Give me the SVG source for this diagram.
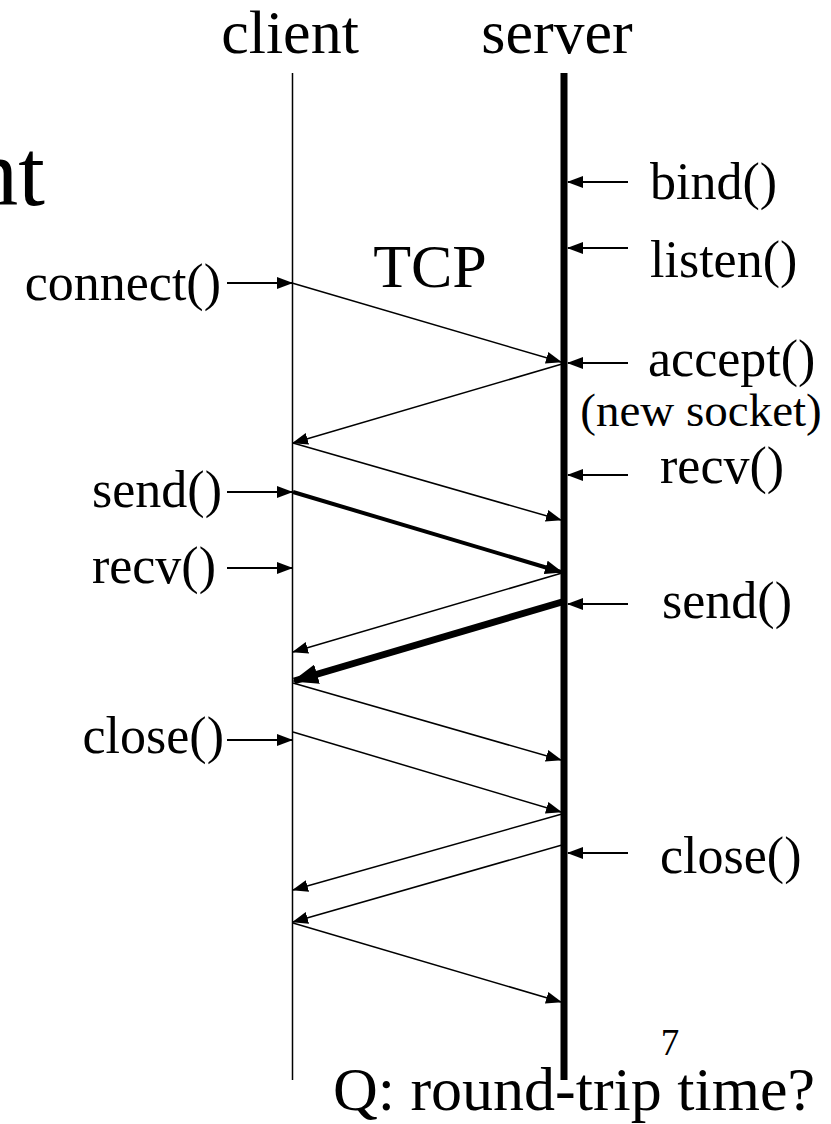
<svg xmlns="http://www.w3.org/2000/svg" width="831" height="1124" viewBox="0 0 831 1124">
<style>
text{font-family:"Liberation Serif","Times New Roman",serif;fill:#000}
.lab{font-size:52px}
.big{font-size:62px}
.thin{stroke:#000;stroke-width:1.5;fill:none}
.call{stroke:#000;stroke-width:1.8;fill:none;marker-end:url(#ah)}
.msg{stroke:#000;stroke-width:1.5;fill:none;marker-end:url(#ah)}
</style>
<defs>
<marker id="ah" markerUnits="userSpaceOnUse" markerWidth="16" markerHeight="12" refX="15" refY="6" orient="auto" viewBox="0 0 16 12"><path d="M0,0 L16,6 L0,12 z" fill="#000"/></marker>
<marker id="ahm" markerUnits="userSpaceOnUse" markerWidth="18" markerHeight="14" refX="16" refY="7" orient="auto" viewBox="0 0 18 14"><path d="M0,0 L18,7 L0,14 z" fill="#000"/></marker>
<marker id="ahb" markerUnits="userSpaceOnUse" markerWidth="26" markerHeight="20" refX="24" refY="10" orient="auto" viewBox="0 0 26 20"><path d="M0,0 L26,10 L0,20 z" fill="#000"/></marker>
</defs>
<g id="title">
<text class="big" x="45" y="205" text-anchor="end" style="font-size:96px">nt</text>
<text class="big" x="430" y="287" text-anchor="middle">TCP</text>
</g>
<g id="client">
<text class="big" x="290" y="53" text-anchor="middle">client</text>
<line x1="292.5" y1="73" x2="292.5" y2="1080" class="thin"/>
</g>
<g id="server">
<text class="big" x="557" y="53" text-anchor="middle">server</text>
<line x1="564" y1="73" x2="564" y2="1080" stroke="#000" stroke-width="7"/>
</g>
<g id="client-calls">
<text class="lab" x="221" y="300" text-anchor="end">connect()</text>
<text class="lab" x="222" y="507" text-anchor="end">send()</text>
<text class="lab" x="216" y="583" text-anchor="end">recv()</text>
<text class="lab" x="224" y="753" text-anchor="end">close()</text>
</g>
<g id="server-calls">
<text class="lab" x="650" y="199">bind()</text>
<text class="lab" x="650" y="277">listen()</text>
<text class="lab" x="648" y="376">accept()</text>
<text x="701" y="426" text-anchor="middle" style="font-size:47px">(new socket)</text>
<text class="lab" x="660" y="483">recv()</text>
<text class="lab" x="662" y="618">send()</text>
<text class="lab" x="660" y="873">close()</text>
</g>
<g id="footer">
<text x="670" y="1055" text-anchor="middle" style="font-size:37px">7</text>
<text class="big" x="574" y="1110" text-anchor="middle">Q: round-trip time?</text>
</g>
<g id="connectors">
<line class="call" x1="227" y1="283" x2="292" y2="283"/>
<line class="call" x1="227" y1="492" x2="292" y2="492"/>
<line class="call" x1="227" y1="568" x2="292" y2="568"/>
<line class="call" x1="227" y1="740" x2="292" y2="740"/>
<line class="call" x1="628" y1="182" x2="568" y2="182"/>
<line class="call" x1="628" y1="248" x2="568" y2="248"/>
<line class="call" x1="628" y1="363" x2="568" y2="363"/>
<line class="call" x1="628" y1="475" x2="568" y2="475"/>
<line class="call" x1="628" y1="604" x2="568" y2="604"/>
<line class="call" x1="628" y1="853" x2="568" y2="853"/>
<line class="msg" x1="292" y1="283" x2="561" y2="362"/>
<line class="msg" x1="562" y1="364" x2="293" y2="443"/>
<line class="msg" x1="293" y1="443" x2="561" y2="520"/>
<line x1="293" y1="492" x2="561" y2="572" stroke="#000" stroke-width="4" marker-end="url(#ahm)"/>
<line class="msg" x1="562" y1="573" x2="293" y2="652"/>
<line x1="562" y1="602" x2="294" y2="681" stroke="#000" stroke-width="7" marker-end="url(#ahb)"/>
<line class="msg" x1="293" y1="683" x2="561" y2="760"/>
<line class="msg" x1="293" y1="732" x2="561" y2="812"/>
<line class="msg" x1="562" y1="814" x2="293" y2="890"/>
<line class="msg" x1="562" y1="845" x2="293" y2="922"/>
<line class="msg" x1="293" y1="923" x2="561" y2="1002"/>
</g>
</svg>
